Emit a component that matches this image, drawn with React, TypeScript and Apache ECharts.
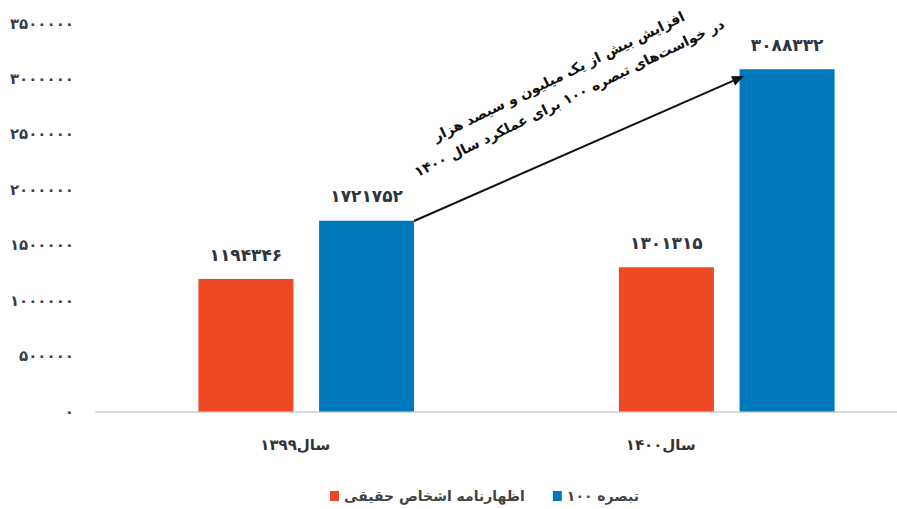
import React, { useEffect, useRef } from "react";
import * as echarts from "echarts";

const categories = ["سال۱۳۹۹", "سال۱۴۰۰"];
const seriesNames = ["اظهارنامه اشخاص حقیقی", "تبصره ۱۰۰"];
const individualReturns = [1194346, 1301315];
const article100 = [1721752, 3088332];
const yMin = 0;
const yMax = 3500000;
const yInterval = 500000;
const noteLines = [
  "افزایش بیش از یک میلیون و سیصد هزار",
  "در خواست‌های تبصره ۱۰۰ برای عملکرد سال ۱۴۰۰",
];

const FONT = "DejaVu Sans";
const ORANGE = "#EF4923";
const BLUE = "#0079BC";

const fa = (v: number | string) =>
  String(v).replace(/\d/g, (d) => "۰۱۲۳۴۵۶۷۸۹"[Number(d)]);

export default function App() {
  const ref = useRef<HTMLDivElement>(null);
  useEffect(() => {
    if (!ref.current) return;
    const chart = echarts.init(ref.current, undefined, { renderer: "svg" });
    const labelStyle = {
      show: true,
      position: "top" as const,
      distance: 16,
      fontFamily: FONT,
      fontWeight: "bold" as const,
      fontSize: 17,
      color: "#2f3440",
      formatter: (p: any) => fa(p.value),
    };
    const rot = (26 * Math.PI) / 180;
    chart.setOption({
      animation: false,
      grid: { left: 96, right: 0, top: 23.5, bottom: 97.5 },
      xAxis: {
        type: "category",
        data: categories,
        axisLine: { lineStyle: { color: "#d6d8dc", width: 2 } },
        axisTick: { show: false },
        axisLabel: {
          margin: 26,
          formatter: (v: string, i: number) => (i === 0 ? `{a|${v}}` : `{b|${v}}`),
          rich: {
            a: { fontFamily: FONT, fontWeight: "bold", fontSize: 15, color: "#333", padding: [0, 22, 0, 0] },
            b: { fontFamily: FONT, fontWeight: "bold", fontSize: 15, color: "#333", padding: [0, 132, 0, 0] },
          },
        },
      },
      yAxis: {
        type: "value",
        min: yMin,
        max: yMax,
        interval: yInterval,
        axisLine: { show: false },
        axisTick: { show: false },
        splitLine: { show: false },
        axisLabel: {
          margin: 22,
          fontFamily: FONT,
          fontWeight: "bold",
          fontSize: 15,
          color: "#3a3d4a",
          formatter: (v: number) => fa(v),
        },
      },
      legend: {
        left: 325,
        top: 484,
        icon: "rect",
        itemWidth: 9,
        itemHeight: 10,
        itemGap: 28,
        textStyle: { fontFamily: FONT, fontWeight: "bold", fontSize: 14, color: "#444" },
        data: seriesNames,
      },
      series: [
        {
          name: seriesNames[0],
          type: "bar",
          data: individualReturns,
          barWidth: 95,
          barGap: "27%",
          itemStyle: { color: ORANGE },
          label: labelStyle,
        },
        {
          name: seriesNames[1],
          type: "bar",
          data: article100,
          barWidth: 95,
          barGap: "27%",
          itemStyle: { color: BLUE },
          label: labelStyle,
        },
      ],
      graphic: [
        {
          type: "line",
          z: 100,
          shape: { x1: 414, y1: 221, x2: 733, y2: 80.8 },
          style: { stroke: "#111", lineWidth: 2 },
        },
        {
          type: "polygon",
          z: 100,
          shape: { points: [[744, 76], [735, 85.4], [731, 76.2]] },
          style: { fill: "#111" },
        },
        {
          type: "group",
          x: 564,
          y: 87,
          z: 100,
          rotation: rot,
          children: [
            {
              type: "text",
              x: 0,
              y: -12,
              style: {
                text: noteLines[0],
                fontFamily: FONT,
                fontWeight: "bold",
                fontSize: 14,
                fill: "#111",
                align: "center",
                verticalAlign: "middle",
              },
            },
            {
              type: "text",
              x: 0,
              y: 12,
              style: {
                text: noteLines[1],
                fontFamily: FONT,
                fontWeight: "bold",
                fontSize: 14,
                fill: "#111",
                align: "center",
                verticalAlign: "middle",
              },
            },
          ],
        },
      ],
    });
    return () => chart.dispose();
  }, []);
  return (
    <div
      style={{
        position: "fixed",
        left: 0,
        top: 0,
        width: 897,
        height: 509,
        overflow: "hidden",
        background: "#fff",
      }}
    >
      <div ref={ref} style={{ width: 937, height: 509 }} />
    </div>
  );
}
